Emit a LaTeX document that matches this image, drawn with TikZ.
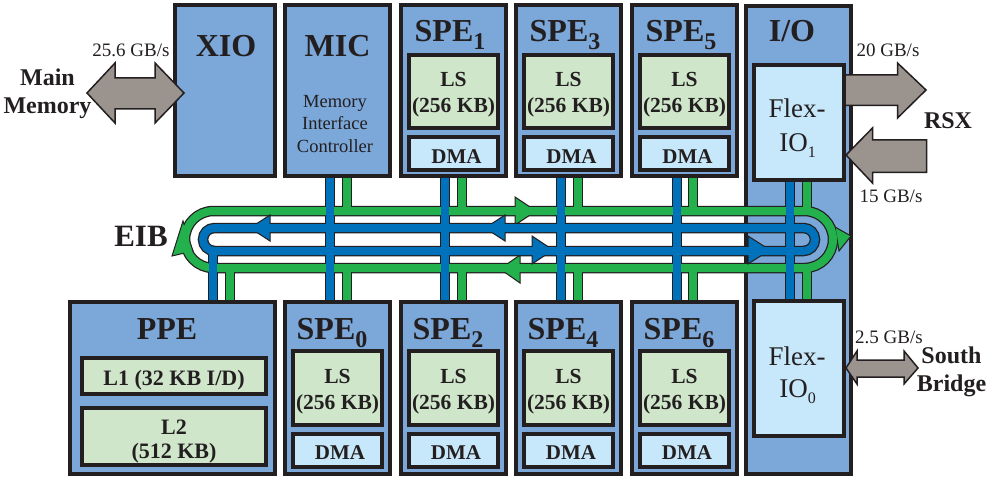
\documentclass[tikz,border=0pt]{standalone}
\usepackage{fontspec}
\setmainfont{Liberation Serif}
\definecolor{dk}{HTML}{231F20}
\definecolor{boxblue}{HTML}{7BA7D9}
\definecolor{lsgreen}{HTML}{CFE6CB}
\definecolor{dmablue}{HTML}{C7E7FA}
\definecolor{ringgreen}{HTML}{22B14C}
\definecolor{ringblue}{HTML}{0071BB}
\definecolor{arrgray}{HTML}{9B948E}
\tikzset{
  unit/.style={draw=dk, fill=boxblue, line width=4pt, inner sep=0pt, outer sep=0pt},
  lsbox/.style={draw=dk, fill=lsgreen, line width=3.5pt, inner sep=0pt, minimum width=89pt},
  dmabox/.style={draw=dk, fill=dmablue, line width=3.5pt, inner sep=0pt, minimum width=89pt, minimum height=33pt},
  flexbox/.style={draw=dk, fill=dmablue, line width=3.8pt, inner sep=0pt, minimum width=90pt},
  txt/.style={text=dk, anchor=base, inner sep=0pt, outer sep=0pt},
  ttl/.style={txt, font=\fontsize{32}{38}\selectfont\bfseries},
  lstxt/.style={txt, font=\fontsize{21.5}{26}\selectfont\bfseries},
  dmatxt/.style={txt, font=\fontsize{21}{25}\selectfont\bfseries},
  rate/.style={txt, font=\fontsize{19}{23}\selectfont},
  lbl/.style={txt, font=\fontsize{24}{29}\selectfont\bfseries},
  flextxt/.style={txt, font=\fontsize{27}{33}\selectfont},
  miccap/.style={txt, font=\fontsize{18.5}{23}\selectfont},
  grayarrow/.style={fill=arrgray, draw=dk, line width=1.5pt, line join=miter},
  bandout/.style={draw=dk, line width=10.5pt},
  stubout/.style={draw=dk, line width=9.5pt},
  headg/.style={fill=ringgreen, draw=dk, line width=1pt, line join=miter},
  headb/.style={fill=ringblue, draw=dk, line width=1pt, line join=miter},
}
\begin{document}
\begin{tikzpicture}[x=1pt,y=-1pt]
\useasboundingbox (0,0) rectangle (995,481);
\fill[white] (0,0) rectangle (995,481);

% I/O big box (behind the ring)
\node[unit, minimum width=105pt, minimum height=468pt] (io) at (798.5,240) {};

% stub outlines
\foreach \x in {330,445,561,677,790} \draw[stubout] (\x,176) -- (\x,302);
\foreach \x in {347,462,578,693,807} {\draw[stubout] (\x,176) -- (\x,211); \draw[stubout] (\x,268) -- (\x,302);}
\draw[stubout] (213,251) -- (213,302);
\draw[stubout] (230,268) -- (230,302);

% green ring
\draw[bandout, rounded corners=28.5pt] (185,211) rectangle (833,268);
\filldraw[headg] (183,221) -- (172,256) -- (193,251) -- cycle;
\filldraw[headg] (835,227) -- (851,236) -- (839,251) -- cycle;
\filldraw[headg] (515,197) -- (536,211) -- (515,225) -- cycle;
\filldraw[headg] (500,269) -- (520,255) -- (520,283) -- cycle;
\draw[ringgreen, line width=8pt, rounded corners=28.5pt] (185,211) rectangle (833,268);

% blue ring
\draw[bandout, rounded corners=11.5pt] (203,228) rectangle (815,251);
\filldraw[headb] (250,228) -- (270,215) -- (270,241) -- cycle;
\filldraw[headb] (485,228) -- (505,215) -- (505,241) -- cycle;
\filldraw[headb] (553,250) -- (532,236) -- (532,264) -- cycle;
\filldraw[headb] (770,250) -- (748,236) -- (748,264) -- cycle;
\draw[ringblue, line width=8pt, rounded corners=11.5pt] (203,228) rectangle (815,251);

% stub colours
\foreach \x in {330,445,561,677,790} \draw[ringblue, line width=7.5pt] (\x,176) -- (\x,302);
\foreach \x in {347,462,578,693,807} {\draw[ringgreen, line width=7.5pt] (\x,176) -- (\x,211); \draw[ringgreen, line width=7.5pt] (\x,268) -- (\x,302);}
\draw[ringblue, line width=7.5pt] (213,251) -- (213,302);
\draw[ringgreen, line width=7.5pt] (230,268) -- (230,302);

\node[txt, font=\fontsize{31}{37}\selectfont\bfseries] (eib) at (141,246) {EIB};

% top row
\node[unit, minimum width=100pt, minimum height=170.5pt] (xio) at (225,90.75) {};
\node[ttl] (xiot) at (226,57) {XIO};
\node[unit, minimum width=105pt, minimum height=170.5pt] (mic) at (337.5,90.75) {};
\node[ttl] (mict) at (337.5,57) {MIC};
\node[miccap] (mic1) at (335,107.5) {Memory};
\node[miccap] (mic2) at (335,130) {Interface};
\node[miccap] (mic3) at (335,152.7) {Controller};

\foreach \nm/\cx/\s in {spe1/453.5/1, spe3/568.5/3, spe5/684.5/5} {
  \node[unit, minimum width=105pt, minimum height=170.5pt] (\nm) at (\cx,90.75) {};
  \node[ttl] (\nm-t) at (\cx-3.5,42) {SPE\raisebox{-8pt}{\fontsize{24}{24}\selectfont \s}};
  \node[lsbox, minimum height=73pt] (\nm-ls) at (\cx,91.5) {};
  \node[lstxt] (\nm-l1) at (\cx,87) {LS};
  \node[lstxt] (\nm-l2) at (\cx,113) {(256 KB)};
  \node[dmabox] (\nm-dma) at (\cx,153.5) {};
  \node[dmatxt] (\nm-d) at (\cx+3,164) {DMA};
}

% bottom row
\node[unit, minimum width=205pt, minimum height=172pt] (ppe) at (172.5,388) {};
\node[ttl] (ppet) at (167,339) {PPE};
\node[lsbox, minimum width=184pt, minimum height=36pt] (l1) at (174,376) {};
\node[lstxt, font=\fontsize{22}{26}\selectfont\bfseries] (l1t) at (174,385) {L1 (32 KB I/D)};
\node[lsbox, minimum width=184pt, minimum height=57pt] (l2) at (174,436.5) {};
\node[lstxt, font=\fontsize{22}{26}\selectfont\bfseries] (l2a) at (174,434) {L2};
\node[lstxt, font=\fontsize{22}{26}\selectfont\bfseries] (l2b) at (174,458) {(512 KB)};

\foreach \nm/\cx/\s in {spe0/337.5/0, spe2/453.5/2, spe4/568.5/4, spe6/684.5/6} {
  \node[unit, minimum width=105pt, minimum height=172pt] (\nm) at (\cx,388) {};
  \node[ttl] (\nm-t) at (\cx-5.5,339) {SPE\raisebox{-8pt}{\fontsize{24}{24}\selectfont \s}};
  \node[lsbox, minimum height=74pt] (\nm-ls) at (\cx,388) {};
  \node[lstxt] (\nm-l1) at (\cx,383) {LS};
  \node[lstxt] (\nm-l2) at (\cx,409) {(256 KB)};
  \node[dmabox] (\nm-dma) at (\cx,450.5) {};
  \node[dmatxt] (\nm-d) at (\cx+2.5,459) {DMA};
}

% I/O contents
\node[ttl] (iot) at (792,42) {I/O};
\node[flexbox, minimum height=115pt] (fio1) at (799,122.5) {};
\node[flextxt] (fio1a) at (797,118) {Flex-};
\node[flextxt] (fio1b) at (797.5,152) {IO\raisebox{-6pt}{\fontsize{16}{16}\selectfont 1}};
\node[flexbox, minimum height=135pt] (fio0) at (799,368.5) {};
\node[flextxt] (fio0a) at (797,365) {Flex-};
\node[flextxt] (fio0b) at (797.5,397) {IO\raisebox{-6pt}{\fontsize{16}{16}\selectfont 0}};

% external arrows
\draw[grayarrow] (87,93) -- (115,63) -- (115,78) -- (155,78) -- (155,63) -- (184,93)
  -- (155,123) -- (155,109) -- (115,109) -- (115,123) -- cycle;
\draw[grayarrow] (846,75) -- (897.5,75) -- (897.5,63) -- (926,90) -- (897.5,118) -- (897.5,105.5) -- (846,105.5);
\draw[grayarrow] (926.5,140) -- (872.5,140) -- (872.5,128) -- (846,155) -- (872.5,183) -- (872.5,172.5) -- (926.5,172.5) -- cycle;
\draw[grayarrow] (846,368) -- (857,351) -- (857,360) -- (904,360) -- (904,351) -- (918,368)
  -- (904,384) -- (904,377) -- (857,377) -- (857,384) -- cycle;

% labels
\node[rate] (r256) at (131,57) {25.6 GB/s};
\node[lbl] (mm1) at (47.5,86) {Main};
\node[lbl] (mm2) at (47.5,114) {Memory};
\node[rate] (r20) at (888,57) {20 GB/s};
\node[rate] (r15) at (891,202) {15 GB/s};
\node[lbl] (rsx) at (948,129) {RSX};
\node[rate] (r25) at (889,343) {2.5 GB/s};
\node[lbl] (sb1) at (951.5,363) {South};
\node[lbl] (sb2) at (951.5,391) {Bridge};
\end{tikzpicture}
\end{document}
